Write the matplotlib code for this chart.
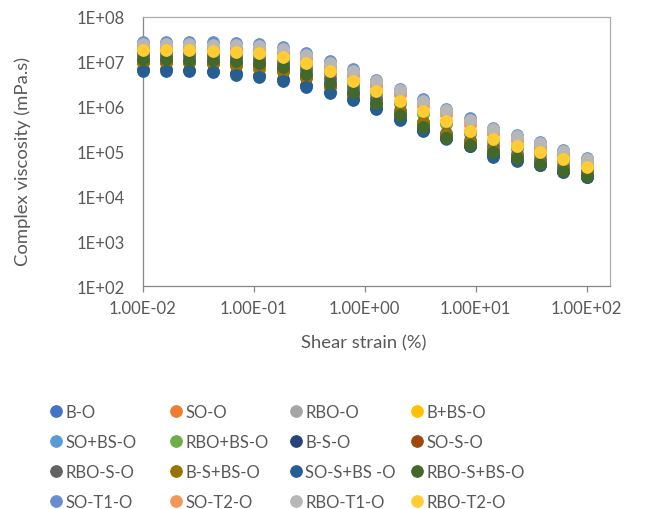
import matplotlib.pyplot as plt
from matplotlib.ticker import FuncFormatter, LogLocator, NullLocator

# ---------------------------------------------------------------------------
# DATA
# ---------------------------------------------------------------------------

shear_strain = [0.01, 0.0162, 0.0264, 0.0428, 0.0695, 0.113, 0.183, 0.298, 0.483, 0.785,
                1.27, 2.07, 3.36, 5.46, 8.86, 14.4, 23.4, 37.9, 61.6, 100]

b_o = [1.1e7, 1.1e7, 1.07e7, 1.05e7, 9.7e6, 8.8e6, 7.2e6, 5.1e6, 3.1e6, 2.0e6,
       1.14e6, 6.2e5, 3.3e5, 1.9e5, 1.33e5, 9.5e4, 6.7e4, 5.0e4, 3.5e4, 2.65e4]
so_o = [1.8e7, 1.8e7, 1.78e7, 1.72e7, 1.65e7, 1.5e7, 1.22e7, 9.0e6, 6.0e6, 3.7e6,
        2.2e6, 1.3e6, 7.8e5, 4.7e5, 2.8e5, 1.85e5, 1.3e5, 9.6e4, 6.5e4, 4.4e4]
rbo_o = [2.2e7, 2.2e7, 2.15e7, 2.1e7, 2.05e7, 2.0e7, 1.7e7, 1.28e7, 8.2e6, 5.4e6,
         3.25e6, 2.0e6, 1.2e6, 7.5e5, 4.5e5, 2.8e5, 1.95e5, 1.36e5, 9.2e4, 6.0e4]
b_bs_o = [1.68e7, 1.68e7, 1.67e7, 1.6e7, 1.53e7, 1.4e7, 1.13e7, 8.4e6, 5.6e6, 3.4e6,
          2.05e6, 1.2e6, 7.3e5, 4.4e5, 2.6e5, 1.7e5, 1.2e5, 9.0e4, 6.1e4, 4.1e4]
so_bs_o = [1.3e7, 1.3e7, 1.28e7, 1.25e7, 1.17e7, 1.06e7, 8.7e6, 6.2e6, 3.8e6, 2.4e6,
           1.38e6, 7.5e5, 4.0e5, 2.3e5, 1.6e5, 1.15e5, 8.2e4, 6.1e4, 4.3e4, 3.2e4]
rbo_bs_o = [1.58e7, 1.58e7, 1.57e7, 1.5e7, 1.44e7, 1.32e7, 1.07e7, 7.9e6, 5.3e6, 3.2e6,
            1.95e6, 1.15e6, 6.9e5, 4.2e5, 2.5e5, 1.6e5, 1.15e5, 8.5e4, 5.8e4, 3.9e4]
b_s_o = [6.8e6, 6.8e6, 6.7e6, 6.3e6, 5.5e6, 5.0e6, 4.1e6, 3.0e6, 2.1e6, 1.5e6,
         9.5e5, 5.4e5, 3.0e5, 2.0e5, 1.35e5, 8.2e4, 6.3e4, 5.0e4, 3.6e4, 2.75e4]
so_s_o = [1.0e7, 1.0e7, 9.8e6, 9.5e6, 8.8e6, 8.0e6, 6.5e6, 4.7e6, 2.9e6, 1.85e6,
          1.15e6, 7.0e5, 4.2e5, 2.4e5, 1.55e5, 1.05e5, 7.2e4, 5.3e4, 3.7e4, 2.8e4]
rbo_s_o = [1.45e7, 1.45e7, 1.42e7, 1.38e7, 1.3e7, 1.18e7, 9.6e6, 6.9e6, 4.3e6, 2.7e6,
           1.55e6, 8.5e5, 4.6e5, 2.6e5, 1.8e5, 1.3e5, 9.0e4, 6.7e4, 4.7e4, 3.5e4]
b_s_bs_o = [9.5e6, 9.5e6, 9.2e6, 9.0e6, 8.0e6, 7.0e6, 5.8e6, 4.3e6, 2.8e6, 1.8e6,
            1.2e6, 7.5e5, 4.5e5, 2.5e5, 1.6e5, 1.1e5, 7.5e4, 5.5e4, 3.8e4, 2.9e4]
so_s_bs_o = [6.3e6, 6.3e6, 6.3e6, 5.9e6, 5.1e6, 4.6e6, 3.8e6, 2.8e6, 2.0e6, 1.4e6,
             8.9e5, 5.1e5, 2.9e5, 2.0e5, 1.3e5, 7.5e4, 6.0e4, 4.9e4, 3.5e4, 2.7e4]
rbo_s_bs_o = [1.15e7, 1.15e7, 1.12e7, 1.1e7, 1.02e7, 9.3e6, 7.6e6, 5.4e6, 3.3e6, 2.1e6,
              1.2e6, 6.5e5, 3.5e5, 2.0e5, 1.4e5, 1.0e5, 7.1e4, 5.3e4, 3.7e4, 2.8e4]
so_t1_o = [2.8e7, 2.8e7, 2.75e7, 2.7e7, 2.6e7, 2.55e7, 2.15e7, 1.6e7, 1.02e7, 6.8e6,
           4.0e6, 2.5e6, 1.45e6, 9.1e5, 5.5e5, 3.4e5, 2.35e5, 1.65e5, 1.1e5, 7.1e4]
so_t2_o = [2.0e7, 2.0e7, 1.95e7, 1.9e7, 1.85e7, 1.8e7, 1.55e7, 1.15e7, 7.4e6, 4.9e6,
           2.9e6, 1.8e6, 1.05e6, 6.6e5, 4.0e5, 2.5e5, 1.7e5, 1.2e5, 8.2e4, 5.3e4]
rbo_t1_o = [2.5e7, 2.5e7, 2.45e7, 2.4e7, 2.35e7, 2.3e7, 1.95e7, 1.45e7, 9.3e6, 6.2e6,
            3.7e6, 2.3e6, 1.35e6, 8.5e5, 5.1e5, 3.2e5, 2.2e5, 1.55e5, 1.05e5, 6.8e4]
rbo_t2_o = [1.86e7, 1.86e7, 1.86e7, 1.78e7, 1.7e7, 1.55e7, 1.26e7, 9.3e6, 6.2e6, 3.8e6,
            2.27e6, 1.35e6, 8.1e5, 4.9e5, 2.9e5, 1.9e5, 1.35e5, 1.0e5, 6.8e4, 4.6e4]

labels = ["B-O", "SO-O", "RBO-O", "B+BS-O",
          "SO+BS-O", "RBO+BS-O", "B-S-O", "SO-S-O",
          "RBO-S-O", "B-S+BS-O", "SO-S+BS -O", "RBO-S+BS-O",
          "SO-T1-O", "SO-T2-O", "RBO-T1-O", "RBO-T2-O"]
series = [b_o, so_o, rbo_o, b_bs_o,
          so_bs_o, rbo_bs_o, b_s_o, so_s_o,
          rbo_s_o, b_s_bs_o, so_s_bs_o, rbo_s_bs_o,
          so_t1_o, so_t2_o, rbo_t1_o, rbo_t2_o]

# Excel office palette (accents, darker 50%, lighter 40%)
COLORS = ["#4472C4", "#ED7D31", "#A5A5A5", "#FFC000",
          "#5B9BD5", "#70AD47", "#264478", "#9E480E",
          "#636363", "#997300", "#255E91", "#43682B",
          "#698ED0", "#F1975A", "#B7B7B7", "#FFCD33"]

TEXT_COLOR = "#595959"
FONT = "Lato"

# ---------------------------------------------------------------------------
# PLOT
# ---------------------------------------------------------------------------

W, H = 648, 510
plt.rcParams["font.family"] = [FONT, "DejaVu Sans"]

fig = plt.figure(figsize=(W / 100, H / 100), dpi=100)
ax = fig.add_axes([142.5 / W, 1 - 287 / H, 467.5 / W, 269 / H])

handles = []
for vals, lab, col in zip(series, labels, COLORS):
    h = ax.scatter(shear_strain, vals, s=70, color=col, edgecolors=col,
                   linewidths=0.75, label=lab, zorder=3, clip_on=False)
    handles.append(h)

ax.set_xscale("log")
ax.set_yscale("log")
ax.set_xlim(1e-2, 162)
ax.set_ylim(1e2, 1e8)

ax.xaxis.set_major_locator(LogLocator(base=10, numticks=10))
ax.xaxis.set_minor_locator(NullLocator())
ax.yaxis.set_major_locator(LogLocator(base=10, numticks=10))
ax.yaxis.set_minor_locator(NullLocator())
ax.xaxis.set_major_formatter(FuncFormatter(lambda v, p: f"{v:.2E}"))
ax.yaxis.set_major_formatter(FuncFormatter(lambda v, p: f"{v:.0E}"))

ax.tick_params(axis="x", direction="out", length=4, width=0.9, color="#878787",
               labelsize=12, labelcolor=TEXT_COLOR, pad=6)
ax.tick_params(axis="y", length=0, labelsize=12, labelcolor=TEXT_COLOR, pad=13)

for side in ["left", "bottom"]:
    ax.spines[side].set_color("#878787")
    ax.spines[side].set_linewidth(0.9)
for side in ["top", "right"]:
    ax.spines[side].set_color("#ABABAB")
    ax.spines[side].set_linewidth(0.9)

fig.text(23 / W, 1 - 161 / H, "Complex viscosity (mPa.s)", rotation=90,
         ha="center", va="center", fontsize=13.3, color=TEXT_COLOR)
fig.text(364 / W, 1 - 343 / H, "Shear strain (%)",
         ha="center", va="center", fontsize=13.3, color=TEXT_COLOR)

# legend: four columns laid out row by row like the Excel legend
col_x = [56, 176, 296, 417]
for c, cx in enumerate(col_x):
    fig.legend(handles[c::4], labels[c::4], loc="upper left",
               bbox_to_anchor=((cx - 6.7) / W, 1 - 405 / H),
               frameon=False, ncol=1, fontsize=12, labelcolor=TEXT_COLOR,
               handlelength=0.8, handletextpad=0.15, borderpad=0,
               borderaxespad=0, labelspacing=0.84, scatterpoints=1,
               scatteryoffsets=[0.5])

fig.savefig("out.png", dpi=100)
